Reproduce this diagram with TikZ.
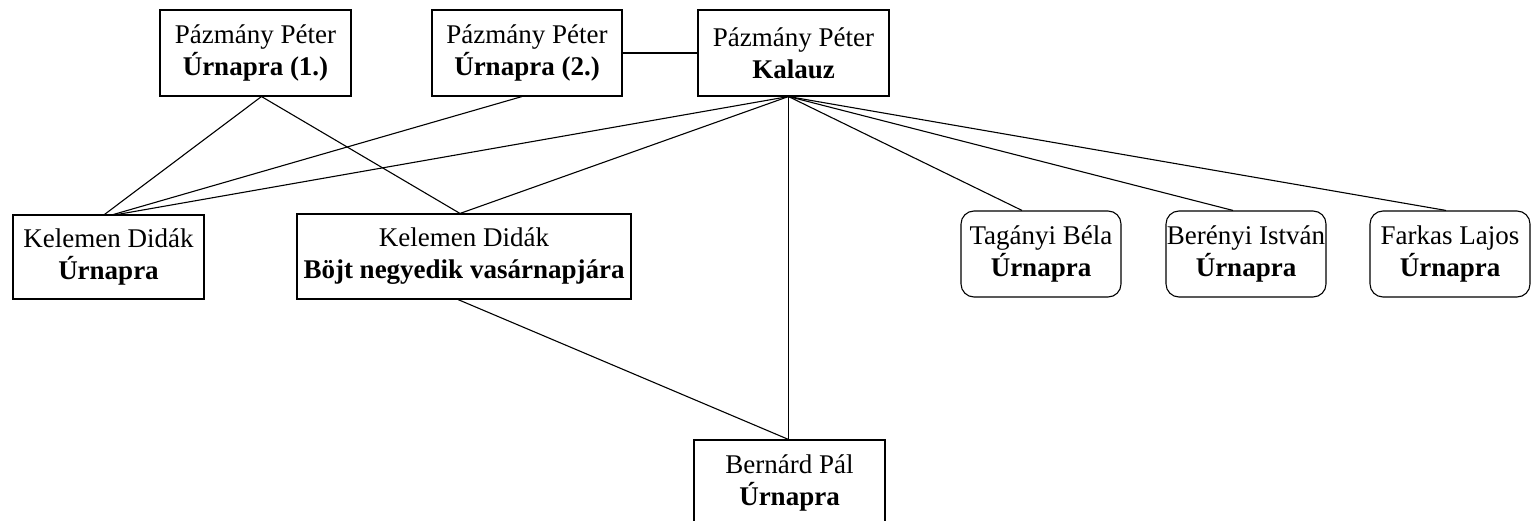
\documentclass[tikz,border=0pt]{standalone}
\usepackage{fontspec}
\setmainfont{Liberation Serif}
\usetikzlibrary{calc}
\begin{document}
\begin{tikzpicture}[x=1pt,y=-1pt,
  every node/.style={font=\fontsize{27}{32}\selectfont, align=center, inner sep=0pt},
  sqbox/.style={draw, line width=1.1pt, minimum height=86pt},
  rbox/.style={draw, line width=1.1pt, rounded corners=13pt, minimum width=160pt, minimum height=86pt},
  link/.style={line width=1.1pt}]
\useasboundingbox (0,0) rectangle (1536,521);
\node[sqbox, minimum width=191pt] (p1) at (255.5,53) {Pázmány Péter\\\textbf{Úrnapra (1.)}};
\node[sqbox, minimum width=190pt] (p2) at (527,53) {Pázmány Péter\\\textbf{Úrnapra (2.)}};
\node[sqbox, minimum width=191pt] (kal) at (793.5,53) {Pázmány Péter\\\textbf{Kalauz}};
\node[sqbox, minimum width=191pt, minimum height=84pt] (k1) at (108.5,257) {Kelemen Didák\\\textbf{Úrnapra}};
\node[sqbox, minimum width=334pt, minimum height=85pt] (k2) at (464,256.5) {Kelemen Didák\\\textbf{Böjt negyedik vasárnapjára}};
\node[rbox] (t) at (1041,254) {Tagányi Béla\\\textbf{Úrnapra}};
\node[rbox] (b) at (1246,254) {Berényi István\\\textbf{Úrnapra}};
\node[rbox] (f) at (1450,254) {Farkas Lajos\\\textbf{Úrnapra}};
\node[sqbox, minimum width=191pt] (bp) at (789.5,483) {Bernárd Pál\\\textbf{Úrnapra}};
\draw[link] (p2.east) -- (kal.west);
\draw[link] ($(p1.south)+(6,0)$) -- ($(k1.north)+(-4,0)$);
\draw[link] ($(p1.south)+(6,0)$) -- ($(k2.north)+(-4,0)$);
\draw[link] ($(p2.south)+(-5,0)$) -- ($(k1.north)+(5,0)$);
\draw[link] ($(kal.south)+(-5,0)$) -- ($(k1.north)+(9,0)$);
\draw[link] ($(kal.south)+(-5,0)$) -- ($(k2.north)+(-4,0)$);
\draw[link] ($(kal.south)+(-5,0)$) -- ($(bp.north)+(-1,0)$);
\draw[link] ($(kal.south)+(-5,0)$) -- ($(t.north)+(-19,0)$);
\draw[link] ($(kal.south)+(-5,0)$) -- ($(b.north)+(-13,0)$);
\draw[link] ($(kal.south)+(-5,0)$) -- ($(f.north)+(-4,0)$);
\draw[link] ($(k2.south)+(-6,0)$) -- ($(bp.north)+(-1,0)$);
\end{tikzpicture}
\end{document}
